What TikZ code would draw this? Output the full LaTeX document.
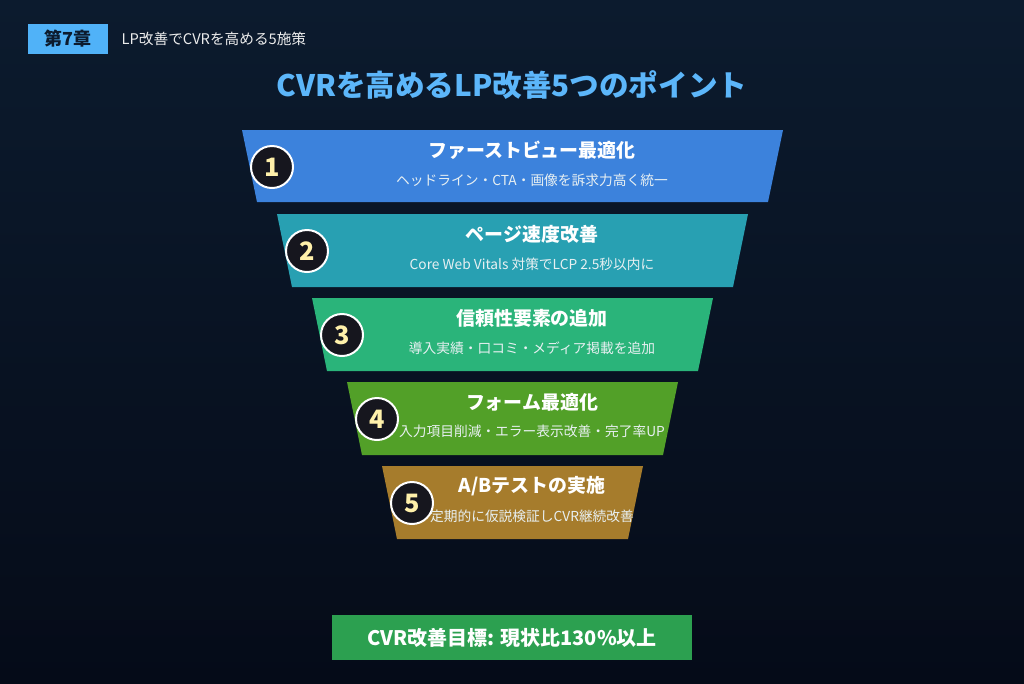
\documentclass[tikz,border=0pt]{standalone}
\usepackage{fontspec}
\setmainfont{Noto Sans CJK JP}
\usetikzlibrary{positioning}
\definecolor{bgtop}{RGB}{12,27,46}
\definecolor{bgbot}{RGB}{5,11,24}
\definecolor{tagcolor}{RGB}{80,178,248}
\definecolor{titlecolor}{RGB}{92,182,250}
\definecolor{stepa}{RGB}{60,130,220}
\definecolor{stepb}{RGB}{40,160,178}
\definecolor{stepc}{RGB}{42,180,122}
\definecolor{stepd}{RGB}{82,160,40}
\definecolor{stepe}{RGB}{166,124,44}
\definecolor{goalcolor}{RGB}{44,160,80}
\definecolor{numcolor}{RGB}{255,240,170}
\definecolor{subcolor}{RGB}{232,240,242}
\definecolor{badgecolor}{RGB}{22,22,30}

\begin{document}
\begin{tikzpicture}[
    x=0.75pt, y=-0.75pt,
    head/.style={font=\fontsize{14.2}{16}\selectfont\bfseries, text=white},
    sub/.style={font=\fontsize{10.3}{12}\selectfont, text=subcolor},
    badge/.style={circle, draw=white, line width=1.5pt, fill=badgecolor, minimum size=31.5pt, inner sep=0pt, text=numcolor, font=\fontsize{19}{21}\selectfont\bfseries}
]
    % Background
    \useasboundingbox (0,0) rectangle (1024,683);
    \shade[top color=bgtop, bottom color=bgbot] (0,0) rectangle (1024,683);

    % Header
    \node[fill=tagcolor, minimum width=60pt, minimum height=22.5pt, inner sep=0pt, text=bgtop, font=\fontsize{13.5}{15}\selectfont\bfseries] (tag) at (68,39) {第7章};
    \node[anchor=west, text=white!85!gray, font=\fontsize{11}{13}\selectfont] (chap) at (117,39) {LP改善でCVRを高める5施策};
    \node[text=titlecolor, font=\fontsize{22.2}{25}\selectfont\bfseries] (title) at (512,85) {CVRを高めるLP改善5つのポイント};

    % Funnel
    \fill[stepa] (242,130) -- (783,130) -- (768,202) -- (257,202) -- cycle;
    \fill[stepb] (277,214) -- (748,214) -- (733,287) -- (292,287) -- cycle;
    \fill[stepc] (312,298) -- (713,298) -- (698,371) -- (327,371) -- cycle;
    \fill[stepd] (347,382) -- (678,382) -- (663,455) -- (362,455) -- cycle;
    \fill[stepe] (382,466) -- (643,466) -- (628,539) -- (397,539) -- cycle;

    % Badges
    \node[badge] (n1) at (272,167) {1};
    \node[badge] (n2) at (307,251) {2};
    \node[badge] (n3) at (342,335) {3};
    \node[badge] (n4) at (377,419) {4};
    \node[badge] (n5) at (412,503) {5};

    % Step texts
    \node[head] (s1) at (532,150) {ファーストビュー最適化};
    \node[sub] (s1sub) at (532,180) {ヘッドライン・CTA・画像を訴求力高く統一};
    \node[head] (s2) at (532,234) {ページ速度改善};
    \node[sub] (s2sub) at (532,264) {Core Web Vitals 対策でLCP 2.5秒以内に};
    \node[head] (s3) at (532,318) {信頼性要素の追加};
    \node[sub] (s3sub) at (532,348) {導入実績・口コミ・メディア掲載を追加};
    \node[head] (s4) at (532,402) {フォーム最適化};
    \node[sub] (s4sub) at (532,431) {入力項目削減・エラー表示改善・完了率UP};
    \node[head] (s5) at (532,486) {A/Bテストの実施};
    \node[sub] (s5sub) at (532,516) {定期的に仮説検証しCVR継続改善};

    % Goal
    \node[fill=goalcolor, minimum width=270pt, minimum height=34pt, inner sep=0pt, text=white, font=\fontsize{15}{17}\selectfont\bfseries] (goal) at (512,637.5) {CVR改善目標: 現状比130\%以上};

\end{tikzpicture}
\end{document}
